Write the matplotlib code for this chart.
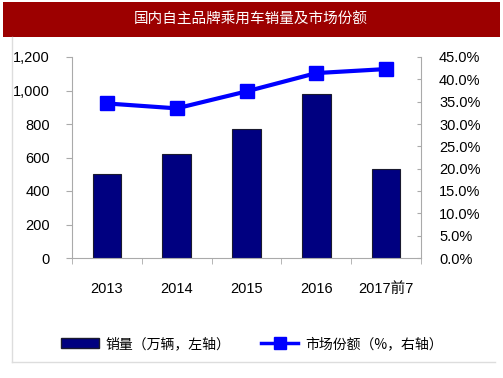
import matplotlib.pyplot as plt
from matplotlib.patches import Rectangle
from matplotlib.lines import Line2D
from matplotlib.ticker import FuncFormatter, FixedLocator

plt.rcParams['font.family'] = ['Liberation Sans', 'Noto Sans CJK SC', 'DejaVu Sans']

###
### Data
###
categories = ['2013', '2014', '2015', '2016', '2017前7']
sales      = [500, 623, 768, 979, 531]          # 万辆
share      = [34.6, 33.5, 37.3, 41.4, 42.3]     # %

title      = '国内自主品牌乘用车销量及市场份额'
lab_sales  = '销量（万辆，左轴）'
lab_share  = '市场份额（%，右轴）'

###
### Figure
###
fig = plt.figure(figsize=(5.03, 3.78), dpi=100)

# title band
fig.patches.append(Rectangle((3/503, 1-37/378), 497/503, 35/378,
                             transform=fig.transFigure, facecolor='#9c0000',
                             edgecolor='none', zorder=0))
fig.text(251/503, 1-20/378, title, color='white', ha='center', va='center',
         fontsize=10.5, family=['Noto Sans CJK SC', 'DejaVu Sans'])

# light frame (left and bottom)
fig.add_artist(Line2D([12/503, 12/503], [1-37/378, 1-362/378],
                      transform=fig.transFigure, color='#dddddd', lw=1))
fig.add_artist(Line2D([12/503, 495/503], [1-362/378, 1-362/378],
                      transform=fig.transFigure, color='#dddddd', lw=1))

ax = fig.add_axes([72/503, 1-258/378, 349/503, 201/378])
x = list(range(len(categories)))
ax.bar(x, sales, width=0.41, color='#000080', edgecolor='#1a1a2e', lw=0.8,
       zorder=2)
ax.set_xlim(-0.5, len(categories)-0.5)
ax.set_ylim(0, 1200)
ax.set_yticks(range(0, 1201, 200))
ax.yaxis.set_major_formatter(FuncFormatter(lambda v, p: f'{int(v):,}'))
ax.set_xticks(x)
ax.set_xticklabels(categories)
ax.xaxis.set_minor_locator(FixedLocator([i - 0.5 for i in range(len(categories)+1)]))
ax.tick_params(axis='x', which='major', length=0, pad=17, labelsize=10.5)
ax.tick_params(axis='x', which='minor', length=4, color='#aaaaaa')
ax.tick_params(axis='y', length=4, color='#aaaaaa', labelsize=10.5, pad=12)
for s in ['top', 'right']:
    ax.spines[s].set_visible(False)
for s in ['left', 'bottom']:
    ax.spines[s].set_color('#aaaaaa')

ax2 = ax.twinx()
ax2.plot(x, share, color='#0000ff', lw=3, marker='s', markersize=10,
         zorder=3)
ax2.set_ylim(0, 45)
ax2.set_yticks([i*5 for i in range(10)])
ax2.yaxis.set_major_formatter(FuncFormatter(lambda v, p: f'{v:.1f}%'))
ax2.tick_params(axis='y', direction='in', length=3, color='#aaaaaa',
                labelsize=10.5, pad=13)
for s in ['top', 'left', 'bottom']:
    ax2.spines[s].set_visible(False)
ax2.spines['right'].set_color('#aaaaaa')

# legend
handles = [Rectangle((0, 0), 1, 1, facecolor='#000080', edgecolor='#1a1a2e'),
           Line2D([], [], color='#0000ff', lw=2.5, marker='s', markersize=8)]
fig.legend(handles, [lab_sales, lab_share], loc='center',
           bbox_to_anchor=(252/503, 1-344/378), ncol=2, frameon=False,
           handlelength=2.7, columnspacing=2.2, handletextpad=0.5,
           prop={'family': ['Noto Sans CJK SC', 'DejaVu Sans'], 'size': 10})

fig.savefig('out.png', dpi=100)
